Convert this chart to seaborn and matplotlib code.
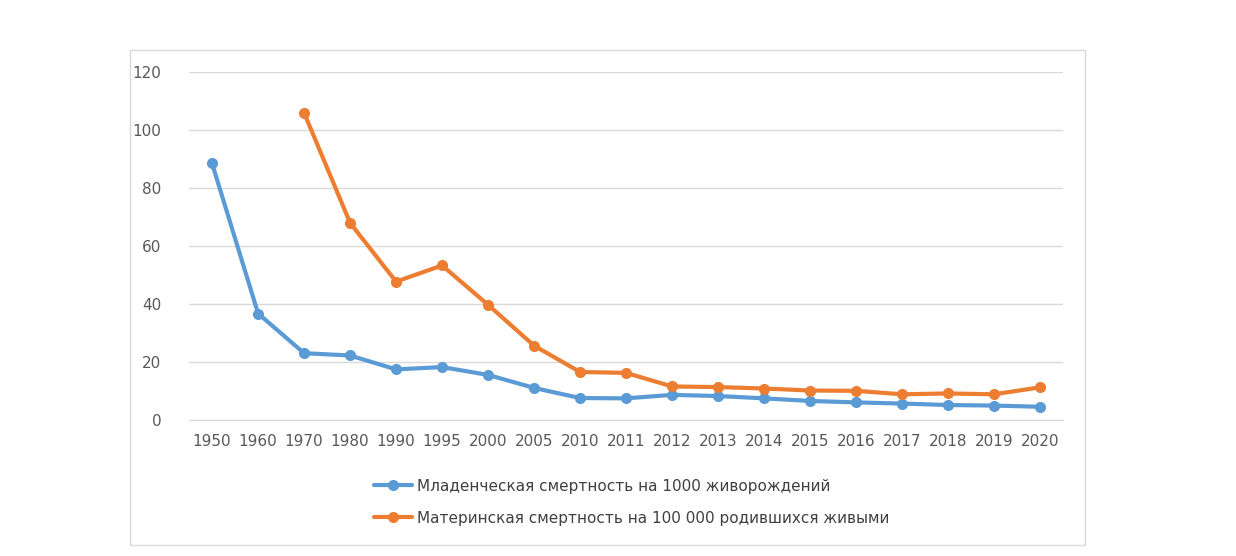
import pandas as pd
import numpy as np
import matplotlib.pyplot as plt
import seaborn as sns
from matplotlib.patches import Rectangle

years = [1950, 1960, 1970, 1980, 1990, 1995, 2000, 2005, 2010, 2011, 2012,
         2013, 2014, 2015, 2016, 2017, 2018, 2019, 2020]
infant = [88.5, 36.7, 23.0, 22.2, 17.4, 18.2, 15.5, 11.0, 7.5, 7.4, 8.6,
          8.2, 7.4, 6.5, 6.0, 5.6, 5.1, 4.9, 4.5]
maternal = [np.nan, np.nan, 106.0, 68.0, 47.7, 53.3, 39.7, 25.6, 16.5, 16.2, 11.5,
            11.3, 10.8, 10.1, 10.0, 8.8, 9.1, 8.8, 11.2]

lab_inf = 'Младенческая смертность на 1000 живорождений'
lab_mat = 'Материнская смертность на 100 000 родившихся живыми'
df = pd.DataFrame({'pos': range(len(years)), lab_inf: infant, lab_mat: maternal})
long = df.melt(id_vars='pos', var_name='series', value_name='value').dropna()

sns.set_style("white")
plt.rcParams['font.family'] = ['DejaVu Sans']

fig = plt.figure(figsize=(12.36, 5.56), dpi=100)
fig.patches.append(Rectangle((130/1236, 1 - 545/556), 955/1236, 495/556,
                             transform=fig.transFigure, fill=False,
                             edgecolor='#d9d9d9', linewidth=1))
ax = fig.add_axes([0.153, 0.245, 0.707, 0.625])

sns.lineplot(data=long, x='pos', y='value', hue='series',
             palette=['#5b9bd5', '#ed7d31'], marker='o', markersize=8,
             markeredgewidth=0, linewidth=3, ax=ax)

ax.set_xlim(-0.5, len(years) - 0.5)
ax.set_ylim(0, 120)
ax.set_yticks(range(0, 121, 20))
ax.set_xticks(range(len(years)))
ax.set_xticklabels(years)
ax.yaxis.grid(True, color='#d9d9d9', linewidth=1)
ax.set_xlabel('')
ax.set_ylabel('')
for s in ['top', 'right', 'left']:
    ax.spines[s].set_visible(False)
ax.spines['bottom'].set_color('#d9d9d9')
ax.tick_params(axis='both', colors='#595959', labelsize=11, length=0)
ax.tick_params(axis='x', pad=10)
ax.tick_params(axis='y', pad=20)

handles, labels = ax.get_legend_handles_labels()
ax.legend(handles, labels, loc='upper left', bbox_to_anchor=(360/1236, 1 - 465/556),
          bbox_transform=fig.transFigure, frameon=False, fontsize=11,
          labelcolor='#404040', handlelength=2.5, labelspacing=1.1, handletextpad=0.3)

plt.savefig('out.png', dpi=100)
